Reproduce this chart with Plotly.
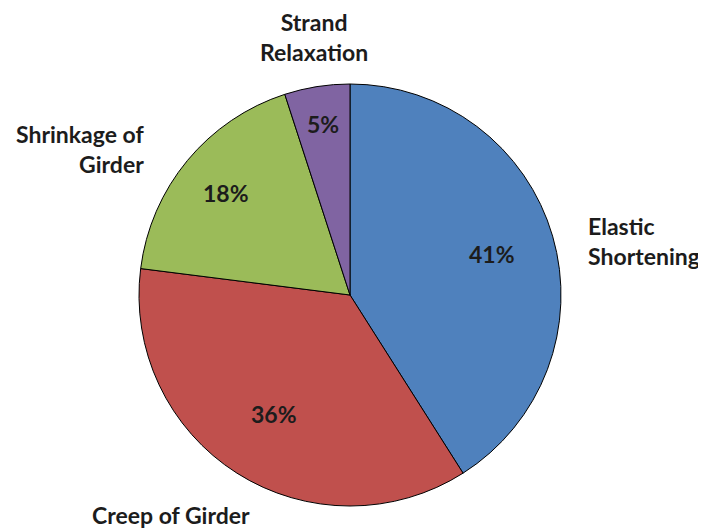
import math
import plotly.graph_objects as go

labels = ["Elastic Shortening", "Creep of Girder", "Shrinkage of Girder", "Strand Relaxation"]
label_text = ["Elastic<br>Shortening", "Creep of Girder", "Shrinkage of<br>Girder", "Strand<br>Relaxation"]
values = [41, 36, 18, 5]
colors = ["#4F81BD", "#C0504D", "#9BBB59", "#8064A2"]

# page body has an 8px margin, so the figure is drawn 8px in from the top-left
W, H = 698, 521
FONT = "Lato"
TXT = "#1c1c1c"
FS = 23

CX, CY, R = 342, 287, 211   # pie centre / radius in figure pixels (from top-left)

fig = go.Figure()
fig.add_trace(go.Pie(
    labels=labels,
    values=values,
    sort=False,
    direction="clockwise",
    rotation=0,
    marker=dict(colors=colors, line=dict(color="#000000", width=1)),
    textinfo="none",
    domain=dict(x=[(CX - R) / W, (CX + R) / W], y=[(H - CY - R) / H, (H - CY + R) / H]),
    showlegend=False,
    hoverinfo="label+percent",
))

# percentage labels placed at each slice's mid-angle
label_radius = [0.70, 0.67, 0.76, 0.82]
total = sum(values)
cum = 0
for v, rf in zip(values, label_radius):
    mid = (cum + v / 2) / total * 2 * math.pi
    cum += v
    px = CX + rf * R * math.sin(mid)
    py = CY - rf * R * math.cos(mid)
    fig.add_annotation(
        x=px / W, y=1 - py / H, xref="paper", yref="paper",
        text="<b>%d%%</b>" % round(v / total * 100), showarrow=False,
        xanchor="center", yanchor="middle",
        font=dict(family=FONT, size=FS, color=TXT),
    )

# outside category labels: (x_px, y_px, xanchor, align)
label_pos = [
    (578, 233, "left", "left"),
    (163, 507, "center", "center"),
    (139, 141, "right", "right"),
    (306, 29, "center", "center"),
]
for txt, (px, py, xa, al) in zip(label_text, label_pos):
    fig.add_annotation(
        x=px / W, y=1 - py / H, xref="paper", yref="paper",
        text="<b>" + txt + "</b>", showarrow=False,
        xanchor=xa, yanchor="middle", align=al,
        font=dict(family=FONT, size=FS, color=TXT),
    )

fig.update_layout(
    width=W, height=H,
    margin=dict(l=0, r=0, t=0, b=0),
    paper_bgcolor="white", plot_bgcolor="white",
)

fig.write_html("out.html")
